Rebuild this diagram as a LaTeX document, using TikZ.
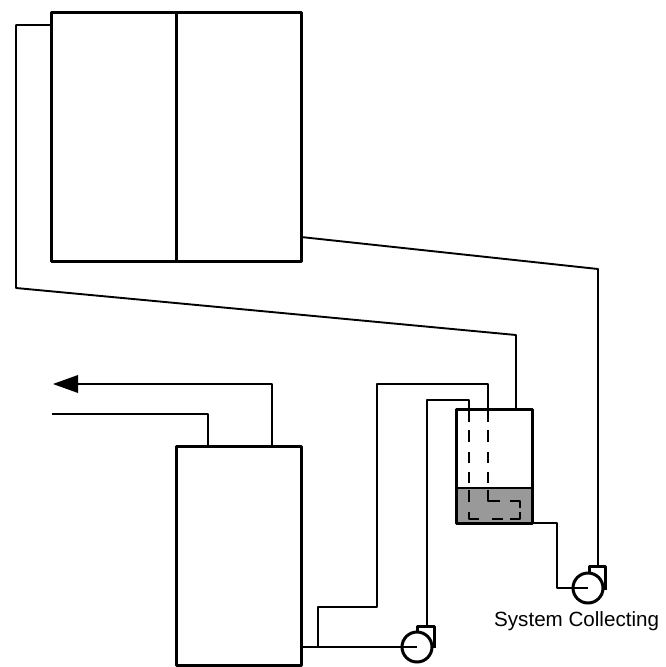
\documentclass[tikz,border=0pt]{standalone}
\usepackage{fontspec}
\setmainfont{Liberation Sans}
\begin{document}
\begin{tikzpicture}[x=1pt,y=-1pt,line join=round,
  thick box/.style={draw=black,line width=3pt,fill=none},
  pipe/.style={draw=black,line width=1.9pt},
  dashpipe/.style={draw=black,line width=1.9pt},
  pump/.style={draw=black,fill=white,line width=3pt,circle,minimum size=30pt,inner sep=0pt}]
\useasboundingbox (0,0) rectangle (665,667);
% solar panels
\coordinate (pa) at (51,12);
\coordinate (pb) at (301,261);
\draw[thick box] (pa) rectangle (pb);
\coordinate (dt) at (176,12);
\coordinate (db) at (176,261);
\draw[thick box] (dt) -- (db);
% storage tank liquid
\coordinate (ta) at (456,409);
\coordinate (tb) at (532,523);
\fill[black!40] (456,488) rectangle (tb);
% pipes
\draw[pipe] (51,25) -- (16,25) -- (16,288) -- (516,335) -- (516,409);
\draw[pipe] (301,237) -- (598,269) -- (598,566);
\draw[dashpipe]
  (469,409) -- (469,422) (469,430) -- (469,442) (469,452) -- (469,463) (469,472) -- (469,483) (469,490) -- (469,502)
  (469,512) -- (469,519) -- (479,519) (492,519) -- (503,519)
  (510,519) -- (520,519) -- (520,512) (520,508) -- (520,501) -- (510,501)
  (488,409) -- (488,422) (488,430) -- (488,442) (488,452) -- (488,463) (488,472) -- (488,483)
  (488,490) -- (488,501) -- (500,501);
\draw[pipe] (488,409) -- (488,384) -- (377,384) -- (377,607) -- (318,607) -- (318,647);
\draw[pipe] (469,409) -- (469,400) -- (427,400) -- (427,626);
\draw[pipe] (532,523) -- (557,523) -- (557,588) -- (573,588);
\draw[pipe] (52,414) -- (208,414) -- (208,446);
\draw[pipe] (272,446) -- (272,384) -- (76,384);
\fill (53,384) -- (78,375) -- (78,393) -- cycle;
% tank outlines
\draw[thick box] (ta) rectangle (tb);
\draw[line width=1.9pt] (456,488) -- (532,488);
\draw[thick box] (176,446) rectangle (301,665);
% pumps
\draw[line width=3pt] (417,634) -- (417,626) -- (434,626) -- (434,648);
\node[pump] (p1) at (417,647) {};
\draw[pipe] (301,647) -- (p1.center);
\draw[line width=3pt] (589,574) -- (589,566) -- (605,566) -- (605,590);
\node[pump] (p2) at (588,588) {};
\draw[pipe] (573,588) -- (p2.center);
\node[anchor=base west,inner sep=0pt,font=\fontsize{20.6}{24}\selectfont] (lbl) at (494,626) {System Collecting};
\end{tikzpicture}
\end{document}
